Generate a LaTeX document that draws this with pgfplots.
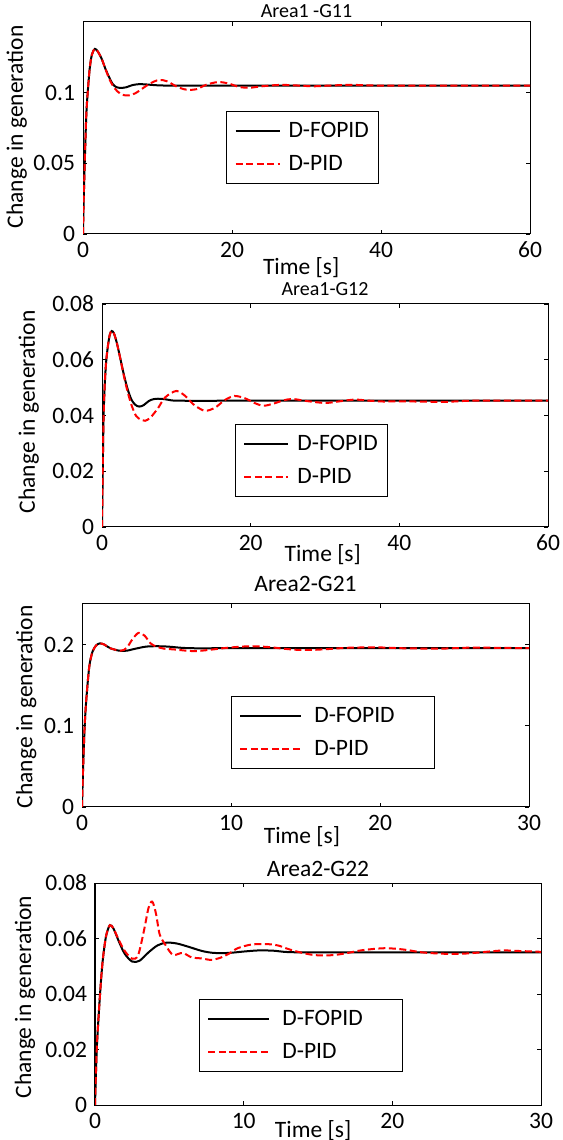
\documentclass[border=0pt]{standalone}
\usepackage{fontspec}
\setmainfont{Carlito}
\usepackage{pgfplots}
\pgfplotsset{compat=1.18}

\pgfplotsset{
  mstyle/.style={
    scale only axis,
    anchor=south west,
    tick align=inside,
    major tick length=4pt,
    every tick/.style={black, line width=0.8pt},
    axis line style={line width=1pt},
    scaled ticks=false,
    /pgf/number format/assume math mode=true,
    yticklabel style={/pgf/number format/fixed, /pgf/number format/precision=2},
    legend cell align=left,
    legend style={draw=black, line width=1pt, anchor=north west,
      inner xsep=8pt, inner ysep=8pt, row sep=10pt, column sep=6pt,
      nodes={inner sep=2pt, text height=16pt, text depth=3pt}},
  },
  fopid/.style={black, line width=2pt, smooth},
  dpid/.style={red, line width=2pt, smooth, dash pattern=on 7pt off 3.5pt},
}

\begin{document}
\fontsize{23.5}{28}\selectfont
\begin{tikzpicture}
\useasboundingbox (0,0) rectangle (562pt,1140pt);

% Area1 - G11
\begin{axis}[mstyle,
  at={(83pt,906pt)}, width=447pt, height=212pt,
  xmin=0, xmax=60, ymin=0, ymax=0.15,
  xtick={0,20,40,60}, ytick={0,0.05,0.1},
  title={Area1 -G11},
  title style={font=\fontsize{20}{24}\selectfont, at={(axis description cs:0.5,1)}, anchor=base, yshift=-2pt},
  xlabel={Time [s]},
  xlabel style={at={(axis description cs:0.488,-0.160)}, anchor=center},
  ylabel={Change in generation},
  ylabel style={at={(axis description cs:-0.148,0.505)}, anchor=center},
  legend style={at={(0.32,0.58)}},
  legend image code/.code={\draw[#1] (0pt,0pt) -- (44pt,0pt);},
]
\addplot[fopid] coordinates {
(0,0)(0.1,0.025)(0.27,0.057)(0.45,0.085)(0.63,0.1)(0.9,0.117)(1.2,0.127)(1.6,0.131)
(2.0,0.129)(2.5,0.124)(3.0,0.117)(3.5,0.111)(4.0,0.106)(4.5,0.1038)(5.0,0.1033)
(5.8,0.1038)(6.6,0.1053)(7.5,0.106)(8.5,0.1058)(10,0.1052)(12,0.105)(20,0.105)(40,0.105)(60,0.105)
};
\addplot[dpid] coordinates {
(0,0)(0.1,0.025)(0.27,0.057)(0.45,0.085)(0.63,0.1)(0.9,0.117)(1.2,0.127)(1.6,0.131)
(2.0,0.129)(2.5,0.124)(3.0,0.117)(3.5,0.110)(4.0,0.105)(4.6,0.101)(5.3,0.0985)(6.1,0.098)
(7.0,0.0995)(8.0,0.103)(9.0,0.1065)(10.2,0.109)(11.3,0.108)(12.5,0.1045)(13.5,0.1025)
(14.3,0.102)(15.3,0.1025)(16.5,0.1055)(18.1,0.1075)(19.5,0.1065)(21,0.104)(22.4,0.1035)
(24,0.1045)(26.5,0.1055)(29,0.105)(31,0.1045)(33,0.105)(36,0.1055)(40,0.105)(50,0.105)(60,0.105)
};
\addlegendentry{D-FOPID}
\addlegendentry{D-PID}
\end{axis}

% Area1 - G12
\begin{axis}[mstyle,
  at={(102pt,613pt)}, width=446pt, height=223pt,
  xmin=0, xmax=60, ymin=0, ymax=0.08,
  xtick={0,20,40,60}, ytick={0,0.02,0.04,0.06,0.08},
  title={Area1-G12},
  title style={font=\fontsize{20}{24}\selectfont, at={(axis description cs:0.5,1)}, anchor=base, yshift=2pt},
  xlabel={Time [s]},
  xlabel style={at={(axis description cs:0.495,-0.126)}, anchor=center},
  ylabel={Change in generation},
  ylabel style={at={(axis description cs:-0.164,0.516)}, anchor=center},
  legend style={at={(0.298,0.462)}},
  legend image code/.code={\draw[#1] (0pt,0pt) -- (44pt,0pt);},
]
\addplot[fopid] coordinates {
(0,0)(0.1,0.02)(0.2,0.038)(0.35,0.05)(0.55,0.059)(0.8,0.065)(1.05,0.069)(1.3,0.0703)
(1.6,0.0695)(2.0,0.066)(2.5,0.06)(3.0,0.054)(3.5,0.049)(4.0,0.0455)(4.5,0.0438)(5.0,0.0432)
(5.6,0.0437)(6.3,0.0452)(7.0,0.0459)(8.0,0.046)(9.0,0.0456)(10.5,0.0453)(20,0.0453)(40,0.0453)(60,0.0453)
};
\addplot[dpid] coordinates {
(0,0)(0.1,0.02)(0.2,0.038)(0.35,0.05)(0.55,0.059)(0.8,0.065)(1.05,0.069)(1.3,0.0703)
(1.6,0.0695)(2.0,0.066)(2.5,0.06)(3.0,0.0535)(3.5,0.048)(4.0,0.0435)(4.6,0.0398)(5.3,0.0384)
(5.8,0.0381)(6.5,0.0392)(7.5,0.0425)(8.5,0.0465)(10,0.0488)(11.2,0.047)(12.3,0.044)
(13.8,0.0417)(15.2,0.0428)(16.5,0.0455)(17.8,0.047)(19.2,0.0462)(20.5,0.0445)(21.7,0.0435)
(23,0.0442)(24.5,0.0455)(25.7,0.0459)(27.5,0.0452)(30,0.0445)(32,0.0451)(34,0.0457)
(36,0.0453)(38,0.045)(40,0.0451)(46,0.0449)(50,0.0453)(60,0.0453)
};
\addlegendentry{D-FOPID}
\addlegendentry{D-PID}
\end{axis}

% Area2 - G21
\begin{axis}[mstyle,
  at={(82pt,333pt)}, width=447pt, height=203pt,
  xmin=0, xmax=30, ymin=0, ymax=0.25,
  xtick={0,10,20,30}, ytick={0,0.1,0.2},
  title={Area2-G21},
  title style={at={(axis description cs:0.5,1)}, anchor=base, yshift=6pt},
  xlabel={Time [s]},
  xlabel style={at={(axis description cs:0.492,-0.148)}, anchor=center},
  ylabel={Change in generation},
  ylabel style={at={(axis description cs:-0.125,0.493)}, anchor=center},
  legend style={at={(0.333,0.547)}, column sep=10pt},
  legend image code/.code={\draw[#1] (0pt,0pt) -- (61pt,0pt);},
]
\addplot[fopid] coordinates {
(0,0)(0.06,0.04)(0.18,0.1)(0.3,0.135)(0.49,0.173)(0.7,0.191)(0.95,0.199)(1.2,0.2015)
(1.5,0.2)(1.9,0.1955)(2.5,0.1925)(3.0,0.1925)(3.6,0.195)(4.3,0.1975)(5.0,0.198)(5.8,0.1975)
(6.7,0.196)(7.5,0.1955)(9,0.1955)(15,0.1955)(22,0.1955)(30,0.1955)
};
\addplot[dpid] coordinates {
(0,0)(0.06,0.04)(0.18,0.1)(0.3,0.135)(0.49,0.173)(0.7,0.191)(0.95,0.199)(1.2,0.2015)
(1.5,0.2)(1.9,0.1955)(2.6,0.1925)(3.0,0.196)(3.4,0.207)(3.8,0.2145)(4.2,0.211)(4.6,0.2015)
(5.0,0.1975)(5.5,0.195)(6.2,0.194)(7.0,0.1925)(7.6,0.192)(8.3,0.193)(9.0,0.1945)(10,0.1965)
(11.3,0.198)(12.5,0.197)(13.5,0.195)(14.5,0.1935)(15.5,0.1935)(16.5,0.1945)(18,0.1962)
(20,0.1965)(21.5,0.1955)(24,0.195)(26,0.1962)(28,0.196)(30,0.1955)
};
\addlegendentry{D-FOPID\hspace{30pt}\mbox{}}
\addlegendentry{D-PID}
\end{axis}

% Area2 - G22
\begin{axis}[mstyle,
  at={(95pt,35pt)}, width=446pt, height=222pt,
  xmin=0, xmax=30, ymin=0, ymax=0.08,
  xtick={0,10,20,30}, ytick={0,0.02,0.04,0.06,0.08},
  title={Area2-G22},
  title style={at={(axis description cs:0.5,1)}, anchor=base, yshift=1pt},
  xlabel={Time [s]},
  xlabel style={at={(axis description cs:0.489,-0.115)}, anchor=center},
  ylabel={Change in generation},
  ylabel style={at={(axis description cs:-0.157,0.486)}, anchor=center},
  legend style={at={(0.233,0.477)}, column sep=10pt},
  legend image code/.code={\draw[#1] (0pt,0pt) -- (61pt,0pt);},
]
\addplot[fopid] coordinates {
(0,0)(0.11,0.019)(0.22,0.03)(0.34,0.04)(0.45,0.048)(0.56,0.054)(0.75,0.061)(1.0,0.0648)
(1.25,0.0635)(1.6,0.059)(2.0,0.0545)(2.5,0.0517)(3.0,0.052)(3.6,0.055)(4.2,0.0575)(4.8,0.0585)
(5.5,0.0582)(6.3,0.057)(7.2,0.0555)(8.0,0.0548)(9.0,0.0548)(10,0.0553)(11,0.0557)(12,0.0556)
(13,0.0551)(15,0.055)(22,0.055)(30,0.055)
};
\addplot[dpid] coordinates {
(0,0)(0.11,0.019)(0.22,0.03)(0.34,0.04)(0.45,0.048)(0.56,0.054)(0.75,0.061)(1.0,0.0648)
(1.25,0.0635)(1.6,0.0595)(2.0,0.0555)(2.5,0.0527)(2.9,0.054)(3.3,0.063)(3.6,0.071)(3.85,0.0733)
(4.1,0.069)(4.35,0.0615)(4.7,0.058)(5.0,0.0555)(5.3,0.054)(5.9,0.0548)(6.5,0.0532)(7.2,0.0528)
(7.8,0.0523)(8.4,0.053)(9.0,0.0545)(9.6,0.0565)(10.5,0.0578)(11.5,0.058)(12.3,0.0575)(13,0.0562)
(13.8,0.055)(14.8,0.054)(16,0.054)(17,0.0548)(18,0.0558)(19.5,0.0565)(20.8,0.056)(22,0.055)
(23.5,0.0545)(25,0.0546)(26.5,0.0553)(27.5,0.0557)(28.5,0.0555)(30,0.0552)
};
\addlegendentry{D-FOPID\hspace{30pt}\mbox{}}
\addlegendentry{D-PID}
\end{axis}
\end{tikzpicture}
\end{document}
